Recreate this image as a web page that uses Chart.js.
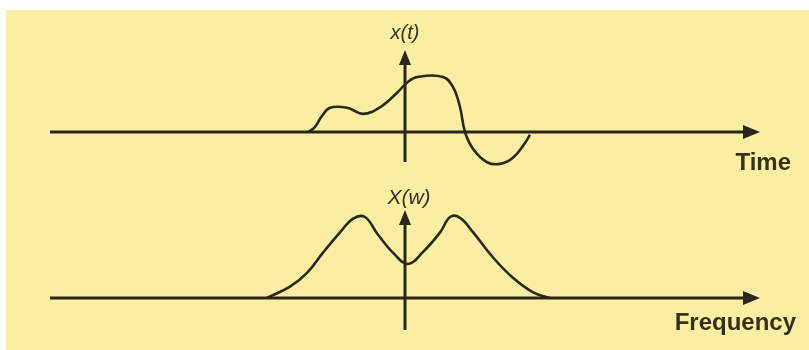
<!DOCTYPE html>
<html>
<head>
<meta charset="utf-8">
<script src="https://cdn.jsdelivr.net/npm/chart.js@4/dist/chart.umd.min.js"></script>
<style>
  html, body { margin: 0; padding: 0; background: #ffffff; }
  #frame { position: absolute; left: 6px; top: 10px; width: 803px; height: 340px; background: #f9eea2; }
  canvas { position: absolute; left: 0; }
  #timeChart { top: 0; }
  #freqChart { top: 180px; }
</style>
</head>
<body>
<div id="frame"></div>
<canvas id="timeChart" width="809" height="180"></canvas>
<canvas id="freqChart" width="809" height="170"></canvas>
<script>
// Time-domain signal x(t)
const timeT = [-2.73, -2.54, -2.34, -2.11, -1.63, -1.18, -0.70, -0.23, 0.08, 0.34, 1.07, 1.35, 1.55, 1.69, 1.92, 2.31, 2.68, 3.04, 3.38, 3.52];
const timeX = [0.00, 0.09, 0.29, 0.44, 0.44, 0.33, 0.45, 0.71, 0.91, 1.00, 1.00, 0.82, 0.45, 0.00, -0.31, -0.55, -0.58, -0.47, -0.20, -0.05];

// Spectrum magnitude X(w)
const freqW = [-3.89, -3.24, -2.76, -2.31, -1.83, -1.46, -1.13, -0.79, -0.34, 0.08, 0.51, 0.99, 1.27, 1.55, 1.92, 2.48, 3.04, 3.61, 4.08];
const freqX = [0.00, 0.14, 0.31, 0.56, 0.81, 0.98, 1.00, 0.80, 0.56, 0.42, 0.57, 0.81, 1.00, 0.99, 0.81, 0.50, 0.25, 0.07, 0.00];

// Axis titles
const timeTitle = 'x(t)';
const timeAxisLabel = 'Time';
const freqTitle = 'X(w)';
const freqAxisLabel = 'Frequency';

const INK = '#2a281a';

// Draws arrow-headed axes through the origin plus their labels
const arrowAxes = {
  id: 'arrowAxes',
  afterDatasetsDraw(chart, args, o) {
    const { ctx, chartArea: a, scales: { x, y } } = chart;
    const y0 = y.getPixelForValue(0);
    const x0 = x.getPixelForValue(0);
    ctx.save();
    ctx.strokeStyle = INK;
    ctx.fillStyle = INK;
    ctx.lineWidth = 3;
    ctx.lineCap = 'butt';
    // horizontal axis
    ctx.beginPath();
    ctx.moveTo(a.left, y0);
    ctx.lineTo(a.right - 14, y0);
    ctx.stroke();
    ctx.beginPath();
    ctx.moveTo(a.right, y0);
    ctx.lineTo(a.right - 17, y0 - 7);
    ctx.lineTo(a.right - 17, y0 + 7);
    ctx.closePath();
    ctx.fill();
    // vertical axis
    const vt = a.top + o.topInset;
    const vb = a.bottom - o.bottomInset;
    ctx.beginPath();
    ctx.moveTo(x0, vb);
    ctx.lineTo(x0, vt + 12);
    ctx.stroke();
    ctx.beginPath();
    ctx.moveTo(x0, vt);
    ctx.lineTo(x0 - 6, vt + 15);
    ctx.lineTo(x0 + 6, vt + 15);
    ctx.closePath();
    ctx.fill();
    // labels
    ctx.fillStyle = '#34321f';
    ctx.textBaseline = 'middle';
    ctx.textAlign = 'center';
    ctx.font = o.titleFont;
    ctx.fillText(o.title, x0 + o.titleDx, a.top + o.titleDy);
    ctx.textAlign = 'right';
    ctx.font = 'bold 24px "Liberation Sans", Arial, sans-serif';
    ctx.fillText(o.axisLabel, a.right + o.labelDx, y0 + o.labelDy);
    ctx.restore();
  }
};

function makeChart(id, xs, ys, yMin, yMax, padding, axisOpts) {
  return new Chart(document.getElementById(id), {
    type: 'line',
    data: {
      datasets: [{
        data: xs.map((v, i) => ({ x: v, y: ys[i] })),
        borderColor: INK,
        borderWidth: 2.6,
        pointRadius: 0,
        fill: false,
        tension: 0.4,
        clip: false
      }]
    },
    options: {
      responsive: false,
      animation: false,
      devicePixelRatio: 1,
      layout: { padding },
      plugins: {
        legend: { display: false },
        tooltip: { enabled: false },
        arrowAxes: axisOpts
      },
      scales: {
        x: { type: 'linear', min: -10, max: 10, display: false },
        y: { type: 'linear', min: yMin, max: yMax, display: false }
      }
    },
    plugins: [arrowAxes]
  });
}

makeChart('timeChart', timeT, timeX, -0.7, 1.6,
  { left: 50, right: 49, top: 44, bottom: 9.5 },
  {
    title: timeTitle, titleFont: 'italic 20px "Liberation Sans", Arial, sans-serif',
    titleDx: 0, titleDy: -11,
    axisLabel: timeAxisLabel, labelDx: 31, labelDy: 31,
    topInset: 6, bottomInset: 8.5
  });

makeChart('freqChart', freqW, freqX, -0.45, 1.1,
  { left: 50, right: 49, top: 28.9, bottom: 15.55 },
  {
    title: freqTitle, titleFont: 'italic 21px "Liberation Sans", Arial, sans-serif',
    titleDx: 4, titleDy: -11,
    axisLabel: freqAxisLabel, labelDx: 36, labelDy: 25,
    topInset: 1, bottomInset: 4.5
  });
</script>
</body>
</html>
